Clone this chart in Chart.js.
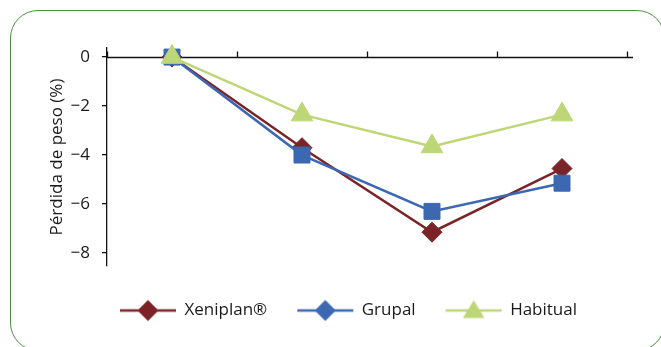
<!DOCTYPE html>
<html lang="es">
<head>
<meta charset="utf-8">
<title>Pérdida de peso</title>
<script src="https://cdn.jsdelivr.net/npm/chart.js@4/dist/chart.umd.min.js"></script>
<style>
  html, body { margin: 0; padding: 0; background: #ffffff; overflow: hidden; }
  #wrap { position: relative; width: 661px; height: 347px; overflow: hidden; }
  #frame {
    position: absolute; left: 10px; top: 10px;
    width: 655px; height: 341px; box-sizing: border-box;
    border: 1.5px solid #4b8f40; border-radius: 28px;
  }
  #chart { position: absolute; left: 0; top: 0; }
</style>
</head>
<body>
<div id="wrap">
  <div id="frame"></div>
  <canvas id="chart" width="661" height="347"></canvas>
</div>
<script>
// Time points (no labels shown on the axis)
const periods = ['T0', 'T1', 'T2', 'T3'];

// Weight loss (%) per group
const xeniplan = [0, -3.7, -7.15, -4.55];
const grupal   = [0, -4.0, -6.3, -5.15];
const habitual = [0, -2.35, -3.65, -2.35];

// Series names
const seriesNames = ['Xeniplan®', 'Grupal', 'Habitual'];

// Y axis ticks
const yTicks = [0, -2, -4, -6, -8];

const colors = ['#7b2428', '#3b68b0', '#bdd677'];
const markers = ['rectRot', 'rect', 'triangle'];
const legendMarkers = ['rectRot', 'rectRot', 'triangle'];
const markerRadius = [10, 11.3, 12.5];

// Small line + marker swatch used as the legend symbol
function makeSwatch(color, style) {
  const c = document.createElement('canvas');
  c.width = 58; c.height = 24;
  const g = c.getContext('2d');
  g.strokeStyle = color;
  g.lineWidth = 2.5;
  g.beginPath(); g.moveTo(1, 12); g.lineTo(57, 12); g.stroke();
  g.fillStyle = color;
  g.beginPath();
  if (style === 'triangle') {
    const r = 12;
    g.moveTo(29, 12 - r * 0.85);
    g.lineTo(29 + r * 0.9, 12 + r * 0.62);
    g.lineTo(29 - r * 0.9, 12 + r * 0.62);
  } else {
    const r = 10.5;
    g.moveTo(29, 12 - r); g.lineTo(29 + r, 12); g.lineTo(29, 12 + r); g.lineTo(29 - r, 12);
  }
  g.closePath(); g.fill();
  return c;
}

const seriesData = [xeniplan, grupal, habitual];
const datasets = seriesData.map((vals, i) => ({
  label: seriesNames[i],
  data: vals,
  borderColor: colors[i],
  backgroundColor: colors[i],
  borderWidth: 2.5,
  pointStyle: markers[i],
  pointRadius: markerRadius[i],
  pointHoverRadius: markerRadius[i],
  pointBorderWidth: 1,
  pointBorderColor: colors[i],
  pointBackgroundColor: colors[i],
  tension: 0,
  clip: false,
  order: 3 - i
}));

const swatches = datasets.map((d, i) => makeSwatch(colors[i], legendMarkers[i]));

// Horizontal axis line at y = 0 with upward tick marks at category boundaries
const zeroAxis = {
  id: 'zeroAxis',
  beforeDatasetsDraw(chart) {
    const { ctx } = chart;
    const xs = chart.scales.x, ys = chart.scales.y;
    const y0 = Math.round(ys.getPixelForValue(0)) + 0.5;
    ctx.save();
    ctx.strokeStyle = '#111111';
    ctx.lineWidth = 1.3;
    ctx.beginPath();
    ctx.moveTo(xs.left, y0);
    ctx.lineTo(xs.right + 6, y0);
    for (let i = 0; i <= periods.length; i++) {
      const px = Math.round(xs.getPixelForValue(i - 0.5)) + 0.5;
      ctx.moveTo(px, y0);
      ctx.lineTo(px, y0 - 6);
    }
    ctx.stroke();
    ctx.restore();
  }
};

const fontFamily = '"Open Sans", "Noto Sans", sans-serif';

new Chart(document.getElementById('chart'), {
  type: 'line',
  data: { labels: periods, datasets },
  plugins: [zeroAxis],
  options: {
    responsive: false,
    animation: false,
    events: [],
    layout: { padding: { left: 70, right: 34, top: 48, bottom: 18 } },
    scales: {
      x: {
        type: 'category',
        offset: true,
        grid: { display: false },
        border: { display: false },
        ticks: { display: false },
        afterFit(scale) { scale.height = 6; }
      },
      y: {
        min: -8.53,
        max: 0.37,
        afterBuildTicks(scale) { scale.ticks = yTicks.map(v => ({ value: v })); },
        afterFit(scale) { scale.width = 37; },
        ticks: {
          padding: 12,
          color: '#1a1a1a',
          font: { family: fontFamily, size: 17 },
          callback: (v) => (v < 0 ? '\u2212' + Math.abs(v) : String(v))
        },
        grid: {
          drawOnChartArea: false,
          drawTicks: true,
          tickLength: 5,
          color: '#111111',
          lineWidth: 1.3
        },
        border: { display: true, color: '#111111', width: 1.3 },
        title: {
          display: true,
          text: 'Pérdida de peso (%)',
          color: '#1a1a1a',
          font: { family: fontFamily, size: 17 },
          padding: { top: -23, bottom: 0 }
        }
      }
    },
    plugins: {
      tooltip: { enabled: false },
      legend: {
        position: 'bottom',
        labels: {
          usePointStyle: true,
          pointStyleWidth: 56,
          padding: 30,
          color: '#1a1a1a',
          font: { family: fontFamily, size: 17 },
          sort: (a, b) => a.datasetIndex - b.datasetIndex,
          generateLabels(chart) {
            return chart.data.datasets.map((d, i) => ({
              text: d.label,
              datasetIndex: i,
              pointStyle: swatches[i],
              fillStyle: colors[i],
              strokeStyle: colors[i],
              lineWidth: 0,
              hidden: false,
              fontColor: '#1a1a1a'
            }));
          }
        }
      }
    }
  }
});
</script>
</body>
</html>
